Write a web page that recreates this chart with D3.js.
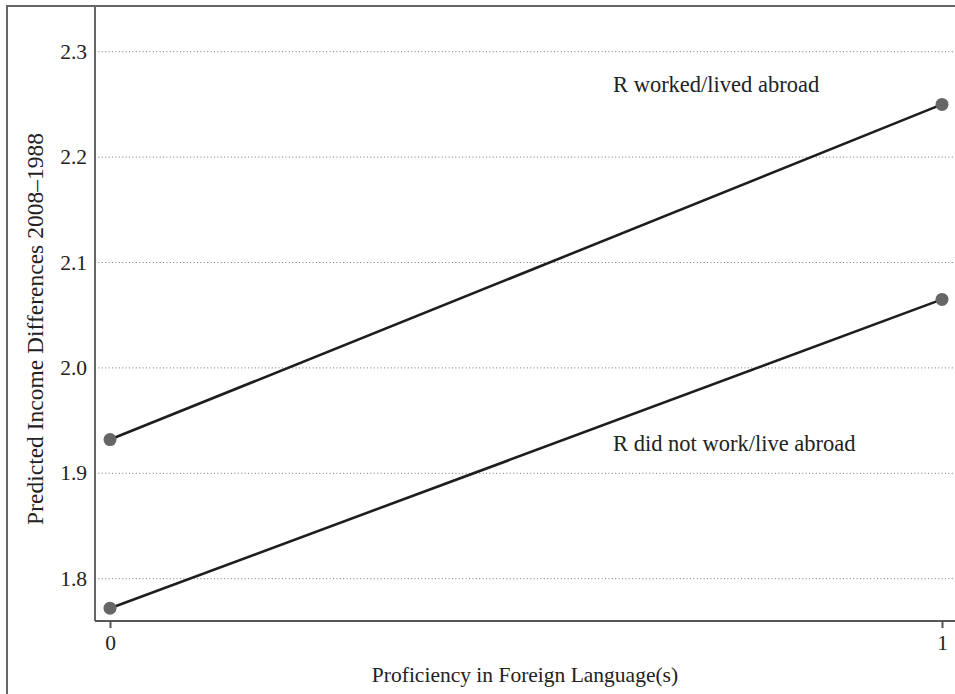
<!DOCTYPE html>
<html>
<head>
<meta charset="utf-8">
<script src="https://cdn.jsdelivr.net/npm/d3@7"></script>
<style>
  body { margin: 0; background: #fff; }
  svg { display: block; font-family: "Liberation Serif", "DejaVu Serif", serif; }
  .grid line { stroke: #777; stroke-width: 1; stroke-dasharray: 1,2.4; }
</style>
</head>
<body>
<script>
// predicted values at proficiency 0 and 1
var xValues = [0, 1];
var abroad = [1.932, 2.250];
var notAbroad = [1.772, 2.065];
var yTicks = [1.8, 1.9, 2.0, 2.1, 2.2, 2.3];
var seriesLabels = ["R worked/lived abroad", "R did not work/live abroad"];

var width = 955,
    height = 694;

var svg = d3.select("body")
    .append("svg")
    .attr("width", width)
    .attr("height", height);

//outer frame, runs off the right and bottom
svg.append("rect")
    .attr("x", 7).attr("y", 6)
    .attr("width", 1000).attr("height", 800)
    .attr("fill", "none")
    .attr("stroke", "#666")
    .attr("stroke-width", 2);

var plotLeft = 95, plotTop = 6, plotRight = 960, plotBottom = 621;

var x = d3.scaleLinear().domain([0, 1]).range([110, 942]);
var y = d3.scaleLinear().domain([1.8, 2.3]).range([578.7, 51.7]);

//dotted gridlines
svg.append("g")
    .attr("class", "grid")
    .selectAll("line")
    .data(yTicks)
    .enter()
    .append("line")
    .attr("x1", plotLeft).attr("x2", plotRight)
    .attr("y1", function(d){ return y(d); })
    .attr("y2", function(d){ return y(d); });

//y tick labels
svg.append("g")
    .selectAll("text")
    .data(yTicks)
    .enter()
    .append("text")
    .attr("x", 87)
    .attr("y", function(d){ return y(d); })
    .attr("dy", "0.33em")
    .attr("text-anchor", "end")
    .attr("font-size", 21.5)
    .attr("fill", "#222")
    .text(function(d){ return d3.format(".1f")(d); });

//x axis
var xAxis = d3.axisBottom(x)
    .tickValues(xValues)
    .tickSize(7)
    .tickPadding(7)
    .tickFormat(d3.format("d"));

var gx = svg.append("g")
    .attr("transform", "translate(0," + plotBottom + ")")
    .call(xAxis);
gx.select(".domain").remove();
gx.selectAll(".tick line").attr("stroke", "#555").attr("stroke-width", 2);
gx.selectAll(".tick text")
    .attr("font-size", 21.5)
    .attr("font-family", "Liberation Serif, serif")
    .attr("fill", "#222");

//plot frame lines
svg.append("line")
    .attr("x1", plotLeft).attr("x2", plotLeft)
    .attr("y1", plotTop).attr("y2", plotBottom)
    .attr("stroke", "#666").attr("stroke-width", 2);
svg.append("line")
    .attr("x1", plotLeft).attr("x2", plotRight)
    .attr("y1", plotBottom).attr("y2", plotBottom)
    .attr("stroke", "#555").attr("stroke-width", 2);

//lines and points
var line = d3.line()
    .x(function(d, i){ return x(xValues[i]); })
    .y(function(d){ return y(d); });

[abroad, notAbroad].forEach(function(series){
  svg.append("path")
      .datum(series)
      .attr("d", line)
      .attr("fill", "none")
      .attr("stroke", "#1e1e1e")
      .attr("stroke-width", 2.6);

  svg.selectAll(null)
      .data(series)
      .enter()
      .append("circle")
      .attr("cx", function(d, i){ return x(xValues[i]); })
      .attr("cy", function(d){ return y(d); })
      .attr("r", 6.5)
      .attr("fill", "#666");
});

//series labels
svg.append("text")
    .attr("x", 613).attr("y", 92)
    .attr("font-size", 22.5)
    .attr("fill", "#222")
    .text(seriesLabels[0]);
svg.append("text")
    .attr("x", 613).attr("y", 451)
    .attr("font-size", 22.5)
    .attr("fill", "#222")
    .text(seriesLabels[1]);

//axis titles
svg.append("text")
    .attr("x", 525).attr("y", 682)
    .attr("text-anchor", "middle")
    .attr("font-size", 21.5)
    .attr("fill", "#222")
    .text("Proficiency in Foreign Language(s)");

svg.append("text")
    .attr("transform", "translate(43,329) rotate(-90)")
    .attr("text-anchor", "middle")
    .attr("font-size", 23.5)
    .attr("fill", "#222")
    .text("Predicted Income Differences 2008\u20131988");
</script>
</body>
</html>
